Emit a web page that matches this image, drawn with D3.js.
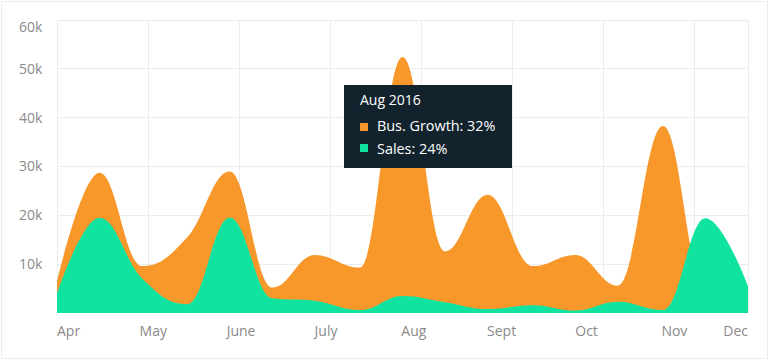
<!DOCTYPE html>
<html>
<head>
<meta charset="utf-8">
<script src="https://cdn.jsdelivr.net/npm/d3@7/dist/d3.min.js"></script>
<style>
  html, body { margin: 0; padding: 0; background: #fff; }
  svg { display: block; font-family: "Open Sans", "Noto Sans", sans-serif; }
</style>
</head>
<body>
<svg id="chart" width="770" height="360"></svg>
<script>
// ---------- data ----------
const dates = ["2016-03-28","2016-04-12","2016-04-27","2016-05-13","2016-05-28","2016-06-12",
  "2016-06-27","2016-07-13","2016-07-28","2016-08-12","2016-08-27","2016-09-12",
  "2016-09-27","2016-10-12","2016-10-28","2016-11-12","2016-11-27"];
const busGrowth = [6500, 28700, 9600, 15500, 29000, 5200, 11900, 9300, 52400, 12600, 24200, 9600, 11900, 5600, 38300, 4700, 5000];
const sales     = [4000, 19500, 7100, 1800, 19500, 3000, 2500, 600, 3500, 2200, 800, 1600, 500, 2300, 600, 19400, 5500];
const monthTicks  = ["2016-04-01","2016-05-01","2016-06-01","2016-07-01","2016-08-01","2016-09-01","2016-10-01","2016-11-01","2016-12-01"];
const monthLabels = ["Apr","May","June","July","Aug","Sept","Oct","Nov","Dec"];
const yTicks = [10000, 20000, 30000, 40000, 50000, 60000];
const tooltipTitle = "Aug 2016";
const tooltipSeries = ["Bus. Growth", "Sales"];
const tooltipValues = ["32%", "24%"];
const colors = ["#F9982A", "#10E3A0"];

// ---------- smooth spline curve (control points at 0.4 of interval, no false extremes) ----------
function SmoothSpline(context) { this._context = context; }
SmoothSpline.prototype = {
  areaStart() { this._line = 0; },
  areaEnd() { this._line = NaN; },
  lineStart() { this._xs = []; this._ys = []; },
  point(x, y) { this._xs.push(+x); this._ys.push(+y); },
  lineEnd() {
    const xs = this._xs, ys = this._ys, n = xs.length, c = this._context;
    if (n) {
      if (this._line) c.lineTo(xs[0], ys[0]); else c.moveTo(xs[0], ys[0]);
      const L = [], R = [];
      const s = 1.5, den = s + 1;
      for (let i = 0; i < n; i++) {
        if (i === 0 || i === n - 1) { L[i] = [xs[i], ys[i]]; R[i] = [xs[i], ys[i]]; continue; }
        const px = xs[i], py = ys[i], lx0 = xs[i - 1], ly0 = ys[i - 1], nx = xs[i + 1], ny = ys[i + 1];
        let lx = (s * px + lx0) / den, ly = (s * py + ly0) / den;
        let rx = (s * px + nx) / den, ry = (s * py + ny) / den;
        let corr = 0;
        if (rx !== lx) corr = ((ry - ly) * (rx - px)) / (rx - lx) + py - ry;
        ly += corr; ry += corr;
        if (ly > ly0 && ly > py) { ly = Math.max(ly0, py); ry = 2 * py - ly; }
        else if (ly < ly0 && ly < py) { ly = Math.min(ly0, py); ry = 2 * py - ly; }
        if (ry > ny && ry > py) { ry = Math.max(ny, py); ly = 2 * py - ry; }
        else if (ry < ny && ry < py) { ry = Math.min(ny, py); ly = 2 * py - ry; }
        L[i] = [lx, ly]; R[i] = [rx, ry];
      }
      for (let i = 1; i < n; i++) c.bezierCurveTo(R[i - 1][0], R[i - 1][1], L[i][0], L[i][1], xs[i], ys[i]);
    }
    if (this._line || (this._line !== 0 && n === 1)) c.closePath();
    this._line = 1 - this._line;
  }
};
const curveSmooth = ctx => new SmoothSpline(ctx);

// ---------- layout ----------
const W = 770, H = 360;
const m = { left: 57, right: 22, top: 20, bottom: 47 };
const svg = d3.select("#chart");
const parse = d3.utcParse("%Y-%m-%d");
const xDates = dates.map(parse);

const x = d3.scaleUtc().domain([xDates[0], xDates[xDates.length - 1]]).range([m.left, W - m.right]);
const y = d3.scaleLinear().domain([0, 60000]).range([H - m.bottom, m.top]);

// outer border
svg.append("rect").attr("x", 1.5).attr("y", 1.5).attr("width", W - 4).attr("height", H - 3)
  .attr("fill", "none").attr("stroke", "#ececec").attr("stroke-width", 1);

// grid
const grid = svg.append("g").attr("stroke", "#ececec").attr("stroke-width", 1).attr("shape-rendering", "crispEdges");
grid.selectAll("line.h").data(yTicks).join("line").attr("class", "h")
  .attr("x1", m.left).attr("x2", W - m.right)
  .attr("y1", d => y(d)).attr("y2", d => y(d));
const innerW = W - m.left - m.right;
const colStep = innerW / 7.585;
const cols = d3.range(0, 8).map(k => m.left + k * colStep).concat([W - m.right]);
grid.selectAll("line.v").data(cols).join("line").attr("class", "v")
  .attr("x1", d => d).attr("x2", d => d)
  .attr("y1", m.top).attr("y2", H - m.bottom);

// areas
const clipId = "plotclip";
svg.append("clipPath").attr("id", clipId).append("rect")
  .attr("x", m.left).attr("y", m.top).attr("width", innerW).attr("height", H - m.top - m.bottom);

[busGrowth, sales].forEach((series, si) => {
  const area = d3.area()
    .x((d, i) => x(xDates[i]))
    .y0(y(0))
    .y1(d => y(d))
    .curve(curveSmooth);
  svg.append("path")
    .attr("clip-path", `url(#${clipId})`)
    .attr("d", area(series))
    .attr("fill", colors[si]);
});

// y labels
svg.append("g").selectAll("text").data(yTicks).join("text")
  .attr("x", 19)
  .attr("y", d => Math.max(y(d), m.top + 7))
  .attr("dy", "0.35em")
  .attr("font-size", 14)
  .attr("fill", "#8a8a8a")
  .text(d => d3.format("d")(d / 1000) + "k");

// x labels
const xl = svg.append("g");
monthTicks.forEach((t, i) => {
  const px = x(parse(t));
  const txt = xl.append("text")
    .attr("y", 336)
    .attr("font-size", 14)
    .attr("fill", "#8a8a8a")
    .text(monthLabels[i]);
  const w = txt.node().getComputedTextLength();
  let left = px - w / 2;
  if (left + w > W - m.right) left = W - m.right - w;
  if (left < m.left) left = m.left;
  txt.attr("x", left);
});

// tooltip
const tip = svg.append("g");
tip.append("rect").attr("x", 344).attr("y", 85).attr("width", 168).attr("height", 83).attr("fill", "#13232E");
tip.append("text").attr("x", 360).attr("y", 105).attr("font-size", 14).attr("fill", "#fff").text(tooltipTitle);
tooltipSeries.forEach((s, i) => {
  tip.append("rect").attr("x", 360).attr("y", 123 + i * 21).attr("width", 8).attr("height", 8).attr("fill", colors[i]);
  tip.append("text").attr("x", 377).attr("y", 131 + i * 22.5).attr("font-size", 14.4).attr("fill", "#fff")
    .text(`${s}: ${tooltipValues[i]}`);
});
</script>
</body>
</html>
